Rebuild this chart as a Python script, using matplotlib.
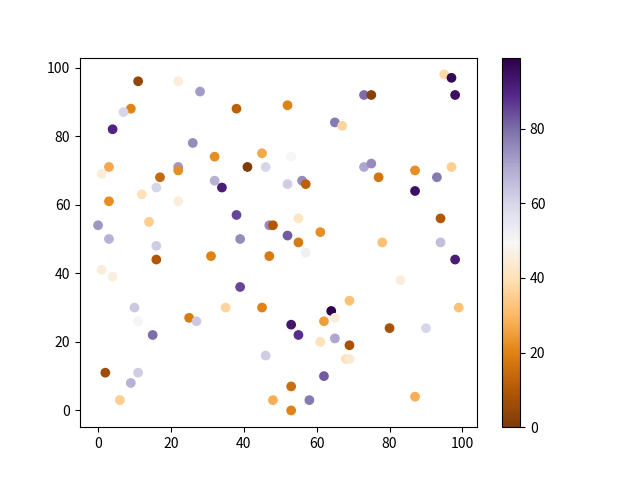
import matplotlib
matplotlib.use("Agg")
import matplotlib.pyplot as plt
import numpy as np

plt.rcParams['font.family'] = ['Noto Sans CJK SC', 'DejaVu Sans']

x = [11, 22, 28, 9, 7, 38, 4, 26, 32, 45, 41, 46, 22, 22, 3, 1, 17, 16, 12, 32,
     34, 22, 3, 38, 14, 0, 47, 48, 3, 39, 16,
     16, 31, 47, 1, 4, 39, 10, 35, 45, 11, 25, 27, 15, 46, 2, 11, 9, 6, 48,
     95, 97, 98, 73, 75, 52, 65, 67, 53, 73, 75, 77, 87, 97, 93, 87, 52, 56, 57, 55,
     61, 52, 55, 78, 94, 94,
     57, 98, 83, 69, 99, 64, 65, 62, 53, 55, 61, 65, 69, 80, 90, 68, 69, 62, 53, 58,
     87, 53]
y = [96, 96, 93, 88, 87, 88, 82, 78, 74, 75, 71, 71, 71, 70, 71, 69, 68, 65, 63, 67,
     65, 61, 61, 57, 55, 54, 54, 54, 50, 50, 48,
     44, 45, 45, 41, 39, 36, 30, 30, 30, 26, 27, 26, 22, 16, 11, 11, 8, 3, 3,
     98, 97, 92, 92, 92, 89, 84, 83, 74, 71, 72, 68, 70, 71, 68, 64, 66, 67, 66, 56,
     52, 51, 49, 49, 56, 49,
     46, 44, 38, 32, 30, 29, 27, 26, 25, 22, 20, 21, 19, 24, 24, 15, 15, 10, 7, 3,
     4, 0]
c = [4, 45, 72, 20, 60, 12, 90, 75, 22, 27, 0, 60, 73, 22, 27, 45, 14, 60, 40, 68,
     92, 45, 22, 85, 35, 73, 75, 10, 68, 75, 62,
     10, 20, 18, 45, 46, 85, 63, 37, 20, 50, 18, 63, 80, 62, 6, 62, 68, 35, 28,
     38, 97, 95, 80, 2, 20, 78, 37, 50, 70, 75, 17, 22, 35, 78, 95, 62, 75, 12, 42,
     22, 82, 18, 32, 10, 65,
     52, 92, 45, 32, 32, 99, 45, 25, 93, 88, 40, 70, 8, 8, 60, 40, 44, 82, 15, 78,
     28, 20]

fig = plt.figure(figsize=(6.4, 4.8), dpi=100)
ax = fig.add_subplot(111)
sc = ax.scatter(x, y, c=c, cmap='PuOr')
fig.colorbar(sc, ax=ax)
fig.savefig('out.png', dpi=100)
